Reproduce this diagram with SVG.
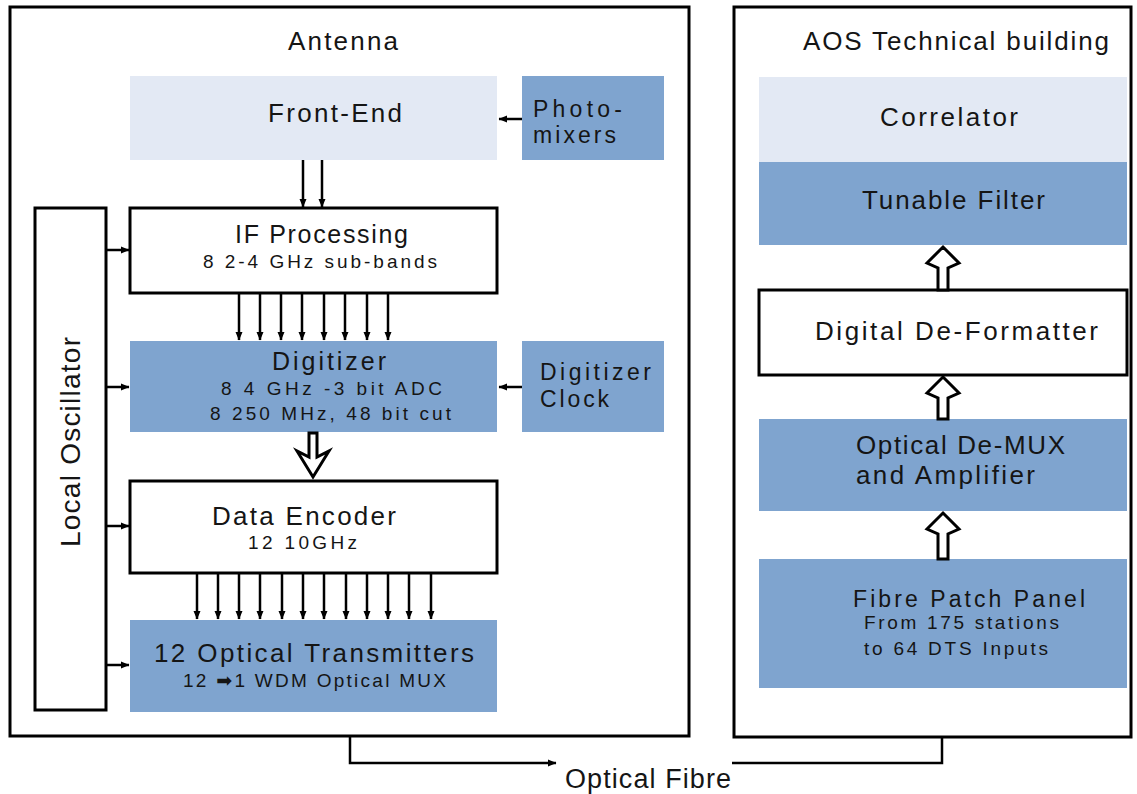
<svg xmlns="http://www.w3.org/2000/svg" width="1137" height="794" viewBox="0 0 1137 794">
<defs>
<style>
text{font-family:"Liberation Sans",Arial,"DejaVu Sans",sans-serif;fill:#151515}
.t{font-size:26px}
.s{font-size:19px}
.t2{font-size:23px}
.blue{fill:#7fa4cf}
.light{fill:#e3e9f4}
.wbox{fill:#fff;stroke:#000;stroke-width:3}
.frame{fill:none;stroke:#000;stroke-width:3}
.ln{fill:none;stroke:#000;stroke-width:2.5}
.hollow{fill:#fff;stroke:#000;stroke-width:3;stroke-linejoin:miter}
</style>
<marker id="ah" markerUnits="userSpaceOnUse" markerWidth="9" markerHeight="8" refX="8" refY="4" orient="auto">
<path d="M0,0.5 L8.5,4 L0,7.5 z" fill="#000"/>
</marker>
</defs>
<rect width="1137" height="794" fill="#fff"/>

<g id="antenna">
<rect class="frame" x="10" y="7" width="679" height="729"/>
<text class="t" x="288" y="50" textLength="110" lengthAdjust="spacing">Antenna</text>
</g>
<g id="aos">
<rect class="frame" x="734" y="7" width="397" height="730"/>
<text class="t" x="803" y="50" textLength="306" lengthAdjust="spacing">AOS Technical building</text>
</g>

<g id="front-end">
<rect class="light" x="130" y="76" width="367" height="84"/>
<text class="t" x="268" y="122" textLength="134" lengthAdjust="spacing">Front-End</text>
</g>
<g id="photo-mixers">
<rect class="blue" x="522" y="76" width="142" height="84"/>
<text class="t2" x="533" y="117" textLength="89" lengthAdjust="spacing">Photo-</text>
<text class="t2" x="533" y="143" textLength="83" lengthAdjust="spacing">mixers</text>
</g>
<g id="local-oscillator">
<rect class="wbox" x="35" y="208" width="71" height="502"/>
<text transform="translate(80,442) rotate(-90)" text-anchor="middle" style="font-size:28px" textLength="210" lengthAdjust="spacing">Local Oscillator</text>
</g>
<g id="if-processing">
<rect class="wbox" x="130" y="208" width="367" height="85"/>
<text style="font-size:25px" x="235" y="243" textLength="173" lengthAdjust="spacing">IF Processing</text>
<text class="s" x="203" y="268" textLength="234" lengthAdjust="spacing">8  2-4 GHz sub-bands</text>
</g>
<g id="digitizer">
<rect class="blue" x="130" y="341" width="367" height="91"/>
<text style="font-size:25px" x="272" y="370" textLength="114" lengthAdjust="spacing">Digitizer</text>
<text class="s" x="221" y="395" textLength="221" lengthAdjust="spacing">8  4 GHz  -3 bit ADC</text>
<text class="s" x="210" y="420" textLength="241" lengthAdjust="spacing">8  250 MHz, 48 bit cut</text>
</g>
<g id="digitizer-clock">
<rect class="blue" x="522" y="341" width="142" height="91"/>
<text class="t2" x="540" y="380" textLength="111" lengthAdjust="spacing">Digitizer</text>
<text class="t2" x="540" y="407" textLength="69" lengthAdjust="spacing">Clock</text>
</g>
<g id="data-encoder">
<rect class="wbox" x="130" y="481" width="367" height="92"/>
<text class="t" x="212" y="525" textLength="184" lengthAdjust="spacing">Data Encoder</text>
<text class="s" x="248" y="549" textLength="109" lengthAdjust="spacing">12  10GHz</text>
</g>
<g id="optical-transmitters">
<rect class="blue" x="130" y="620" width="367" height="92"/>
<text class="t" x="154" y="662" textLength="320" lengthAdjust="spacing">12 Optical Transmitters</text>
<text class="s" x="183" y="687" textLength="263" lengthAdjust="spacing">12 ➡1 WDM Optical MUX</text>
</g>

<g id="correlator">
<rect class="light" x="759" y="77" width="368" height="85"/>
<text class="t" x="880" y="126" textLength="138" lengthAdjust="spacing">Correlator</text>
</g>
<g id="tunable-filter">
<rect class="blue" x="759" y="162" width="368" height="83"/>
<text class="t" x="862" y="209" textLength="183" lengthAdjust="spacing">Tunable Filter</text>
</g>
<g id="digital-deformatter">
<rect class="wbox" x="759" y="290" width="368" height="85"/>
<text class="t" x="815" y="340" textLength="283" lengthAdjust="spacing">Digital De-Formatter</text>
</g>
<g id="optical-demux">
<rect class="blue" x="759" y="419" width="368" height="92"/>
<text class="t" x="856" y="454" textLength="209" lengthAdjust="spacing">Optical De-MUX</text>
<text class="t" x="856" y="484" textLength="179" lengthAdjust="spacing">and Amplifier</text>
</g>
<g id="fibre-patch-panel">
<rect class="blue" x="759" y="559" width="368" height="129"/>
<text class="t2" x="853" y="607" textLength="232" lengthAdjust="spacing">Fibre Patch Panel</text>
<text class="s" x="864" y="629" textLength="195" lengthAdjust="spacing">From 175 stations</text>
<text class="s" x="864" y="655" textLength="184" lengthAdjust="spacing">to 64 DTS Inputs</text>
</g>

<g id="optical-fibre">
<text style="font-size:27px" x="565" y="788" textLength="166" lengthAdjust="spacing">Optical Fibre</text>
</g>

<g id="connectors">
<line class="ln" x1="522" y1="119" x2="499" y2="119" marker-end="url(#ah)"/>
<line class="ln" x1="303" y1="160" x2="303" y2="207" marker-end="url(#ah)"/>
<line class="ln" x1="322" y1="160" x2="322" y2="207" marker-end="url(#ah)"/>
<line class="ln" x1="106" y1="250" x2="129" y2="250" marker-end="url(#ah)"/>
<line class="ln" x1="106" y1="387" x2="129" y2="387" marker-end="url(#ah)"/>
<line class="ln" x1="106" y1="526" x2="129" y2="526" marker-end="url(#ah)"/>
<line class="ln" x1="106" y1="665" x2="129" y2="665" marker-end="url(#ah)"/>
<line class="ln" x1="522" y1="387" x2="499" y2="387" marker-end="url(#ah)"/>
<g id="if-to-digitizer">
<line class="ln" x1="239" y1="293" x2="239" y2="340" marker-end="url(#ah)"/>
<line class="ln" x1="260" y1="293" x2="260" y2="340" marker-end="url(#ah)"/>
<line class="ln" x1="281" y1="293" x2="281" y2="340" marker-end="url(#ah)"/>
<line class="ln" x1="302" y1="293" x2="302" y2="340" marker-end="url(#ah)"/>
<line class="ln" x1="324" y1="293" x2="324" y2="340" marker-end="url(#ah)"/>
<line class="ln" x1="345" y1="293" x2="345" y2="340" marker-end="url(#ah)"/>
<line class="ln" x1="367" y1="293" x2="367" y2="340" marker-end="url(#ah)"/>
<line class="ln" x1="388" y1="293" x2="388" y2="340" marker-end="url(#ah)"/>
</g>
<g id="encoder-to-transmitters">
<line class="ln" x1="197" y1="573" x2="197" y2="619" marker-end="url(#ah)"/>
<line class="ln" x1="218" y1="573" x2="218" y2="619" marker-end="url(#ah)"/>
<line class="ln" x1="239" y1="573" x2="239" y2="619" marker-end="url(#ah)"/>
<line class="ln" x1="260" y1="573" x2="260" y2="619" marker-end="url(#ah)"/>
<line class="ln" x1="282" y1="573" x2="282" y2="619" marker-end="url(#ah)"/>
<line class="ln" x1="303" y1="573" x2="303" y2="619" marker-end="url(#ah)"/>
<line class="ln" x1="324" y1="573" x2="324" y2="619" marker-end="url(#ah)"/>
<line class="ln" x1="346" y1="573" x2="346" y2="619" marker-end="url(#ah)"/>
<line class="ln" x1="367" y1="573" x2="367" y2="619" marker-end="url(#ah)"/>
<line class="ln" x1="388" y1="573" x2="388" y2="619" marker-end="url(#ah)"/>
<line class="ln" x1="409" y1="573" x2="409" y2="619" marker-end="url(#ah)"/>
<line class="ln" x1="431" y1="573" x2="431" y2="619" marker-end="url(#ah)"/>
</g>
<path class="hollow" d="M309,433 L317,433 L317,457 L329,451 L313,477 L297,451 L309,457 Z"/>
<path class="hollow" d="M943,247 L959,263 L948,268 L948,290 L938,290 L938,268 L927,263 Z"/>
<path class="hollow" d="M943,377 L959,393 L948,398 L948,419 L938,419 L938,398 L927,393 Z"/>
<path class="hollow" d="M943,513 L959,529 L948,534 L948,559 L938,559 L938,534 L927,529 Z"/>
<path class="ln" d="M350,736 L350,763 L556,763" marker-end="url(#ah)"/>
<path class="ln" d="M732,763 L942,763 L942,737"/>
</g>
</svg>
